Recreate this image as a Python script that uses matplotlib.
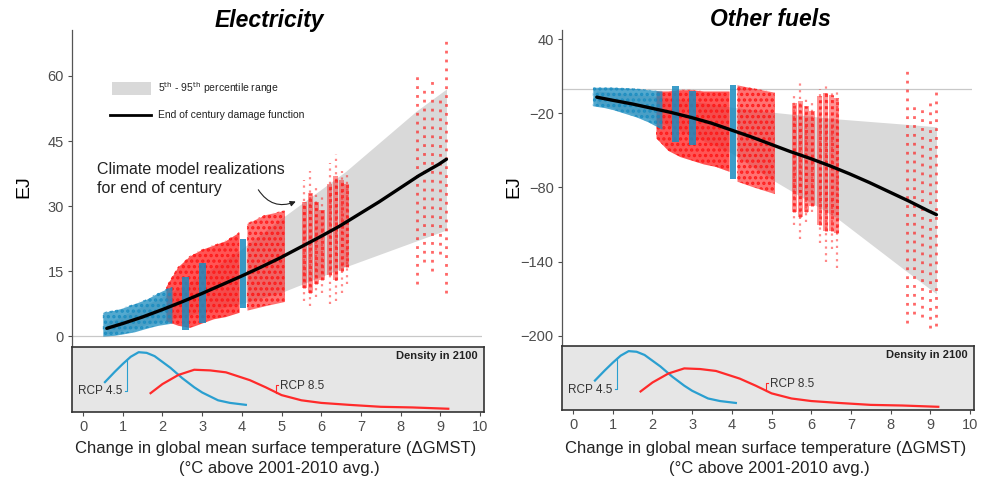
import matplotlib
matplotlib.use("Agg")
import matplotlib.pyplot as plt
import numpy as np
from matplotlib.patches import Rectangle

plt.rcParams['font.family'] = ['Liberation Sans', 'DejaVu Sans']
plt.rcParams['hatch.linewidth'] = 1.6

BLUE = '#1a8cc0'
RED = '#ff1414'
BAND = '#d9d9d9'
TICKC = '#4d4d4d'

# ---------------- data ----------------
titles = ['Electricity', 'Other fuels']

# end-of-century damage functions
line_x = [0.6, 1, 1.5, 2, 2.5, 3, 3.5, 4, 4.5, 5, 5.5, 6, 6.5, 7, 7.5, 8, 8.5, 9, 9.2]
elec_line = [1.8, 2.9, 4.4, 6.1, 7.9, 9.8, 11.8, 13.8, 15.9, 18.1, 20.5, 22.9, 25.4, 28.2, 31.0, 34.0, 37.0, 39.6, 40.8]
fuel_line = [-7, -9.5, -12.5, -16, -19.5, -23.5, -28, -33.5, -39, -45, -51, -56.5, -62.5, -69, -76, -83.5, -91, -99, -102]

# 5th-95th percentile band
band_x = [0.6, 2, 3, 4, 5, 6.65, 8.45, 9.2]
elec_hi = [3, 9, 14, 20, 27, 38, 52, 57]
elec_lo = [0.5, 3.5, 5.5, 7.5, 10, 16, 22, 24.5]
fuel_hi = [-2, -6, -10, -15, -19, -24.5, -29, -31]
fuel_lo = [-12, -25, -38, -52, -73, -104, -148, -166]

# RCP4.5 realizations: dense cloud envelope
b_cloud_x = [0.5, 0.8, 1.0, 1.3, 1.6, 1.9, 2.25]
elec_b_lo = [0.0, 0.2, 0.5, 1.0, 1.8, 2.5, 3.0]
elec_b_hi = [5.5, 6.0, 6.5, 7.5, 8.5, 10.0, 11.5]
fuel_b_lo = [-14, -15.5, -17, -20, -23, -27, -33]
fuel_b_hi = [1, 1, 1, 0.5, 0, -1, -2]
# RCP4.5 single-model columns
b_col_x = [2.6, 3.03, 4.05]
elec_bc_lo = [1.4, 3.0, 6.5]
elec_bc_hi = [13.6, 16.8, 22.5]
fuel_bc_lo = [-43, -46, -73]
fuel_bc_hi = [2, -2, 2.5]

# RCP8.5 realizations: dense cloud envelopes
rA_x = [2.1, 2.4, 2.7, 3.0, 3.3, 3.6, 3.95]
elec_rA_lo = [3.5, 2.5, 2.0, 3.0, 4.0, 4.5, 5.5]
elec_rA_hi = [11.5, 16, 18.5, 20, 21, 22, 24]
fuel_rA_lo = [-40, -50, -55, -58, -61, -63, -67]
fuel_rA_hi = [-2, -2, -1, -1, -2, -2, -2]
rB_x = [4.15, 4.6, 5.1]
elec_rB_lo = [6, 7, 8]
elec_rB_hi = [26, 28, 29]
fuel_rB_lo = [-75, -80, -85]
fuel_rB_hi = [3, 0, -3]

# RCP8.5 dense columns
rc_x = [5.6, 5.75, 5.9, 6.05, 6.25, 6.4, 6.55, 6.68]
elec_rc_lo = [11, 10, 12, 13, 14, 13, 15, 16]
elec_rc_hi = [31, 33, 31, 29, 35, 37, 36, 35]
elec_rc_olo = [8, 7, 9, 10, 7.5, 8, 10, 12]
elec_rc_ohi = [36, 38, 35, 33, 40, 42, 38, 38]
fuel_rc_lo = [-100, -104, -100, -95, -110, -115, -115, -117]
fuel_rc_hi = [-12, -10, -14, -18, -6, -4, -5, -8]
fuel_rc_olo = [-110, -122, -108, -100, -125, -140, -130, -145]
fuel_rc_ohi = [-3, 5, -8, -10, 0, 2, -1, 0]

# RCP8.5 sparse hot columns
rs_x = [8.46, 8.64, 8.84, 9.04, 9.2]
elec_rs_lo = [12, 17, 15, 19, 10]
elec_rs_hi = [61, 57, 59, 55, 68]
fuel_rs_lo = [-190, -182, -185, -194, -192]
fuel_rs_hi = [14, -10, -15, -10, -2]

# density of GMST in 2100
rcp45_x = [0.55, 0.8, 1.0, 1.2, 1.4, 1.6, 1.8, 2.0, 2.2, 2.5, 2.8, 3.0, 3.4, 3.7, 4.1]
rcp45_y = [0.46, 0.62, 0.74, 0.85, 0.92, 0.91, 0.86, 0.77, 0.68, 0.52, 0.38, 0.30, 0.18, 0.14, 0.11]
rcp85_x = [1.7, 2.0, 2.4, 2.8, 3.2, 3.6, 4.2, 4.6, 5.0, 5.5, 6.0, 6.7, 7.5, 8.3, 9.2]
rcp85_y = [0.29, 0.43, 0.57, 0.65, 0.64, 0.61, 0.49, 0.38, 0.26, 0.18, 0.14, 0.11, 0.08, 0.07, 0.05]

x_ticks = list(range(0, 11))
elec_ticks = [0, 15, 30, 45, 60]
fuel_ticks = [40, -20, -80, -140, -200]

# ---------------- figure ----------------
W, H = 985, 487
fig = plt.figure(figsize=(W / 100, H / 100), dpi=100)


def fx(px):
    return px / W


def fy(py):
    return 1 - py / H


def cloud(ax, x, lo, hi, color, alpha):
    ax.fill_between(x, lo, hi, color=color, alpha=alpha, lw=0, zorder=2)
    ax.fill_between(x, lo, hi, facecolor='none', edgecolor=color, hatch='...', lw=0,
                    alpha=0.9, zorder=2)


panels = [
    dict(left=72, main_bot=347, dens_bot=412, ylim=(-2.5, 70.6), ticks=elec_ticks,
         line=elec_line, hi=elec_hi, lo=elec_lo,
         b_lo=elec_b_lo, b_hi=elec_b_hi, bc_lo=elec_bc_lo, bc_hi=elec_bc_hi,
         rA_lo=elec_rA_lo, rA_hi=elec_rA_hi, rB_lo=elec_rB_lo, rB_hi=elec_rB_hi,
         rc_lo=elec_rc_lo, rc_hi=elec_rc_hi, rc_olo=elec_rc_olo, rc_ohi=elec_rc_ohi,
         rs_lo=elec_rs_lo, rs_hi=elec_rs_hi, title_x=269, xlab_x=276),
    dict(left=562, main_bot=346, dens_bot=410, ylim=(-208.2, 47.3), ticks=fuel_ticks,
         line=fuel_line, hi=fuel_hi, lo=fuel_lo,
         b_lo=fuel_b_lo, b_hi=fuel_b_hi, bc_lo=fuel_bc_lo, bc_hi=fuel_bc_hi,
         rA_lo=fuel_rA_lo, rA_hi=fuel_rA_hi, rB_lo=fuel_rB_lo, rB_hi=fuel_rB_hi,
         rc_lo=fuel_rc_lo, rc_hi=fuel_rc_hi, rc_olo=fuel_rc_olo, rc_ohi=fuel_rc_ohi,
         rs_lo=fuel_rs_lo, rs_hi=fuel_rs_hi, title_x=770, xlab_x=766),
]

XLIM = (-0.28, 10.1)

for i, p in enumerate(panels):
    ax = fig.add_axes([fx(p['left']), fy(p['main_bot']), 410 / W, (p['main_bot'] - 30) / H])
    dax = fig.add_axes([fx(p['left']), fy(p['dens_bot']), 412 / W, (p['dens_bot'] - p['main_bot']) / H])

    ax.set_xlim(*XLIM)
    ax.set_ylim(*p['ylim'])
    for s in ['top', 'right', 'bottom']:
        ax.spines[s].set_visible(False)
    ax.spines['left'].set_color('#555555')
    ax.spines['left'].set_linewidth(0.9)
    ax.set_xticks([])
    ax.set_yticks(p['ticks'])
    ax.tick_params(axis='y', colors=TICKC, labelsize=10.5, length=3, width=0.8, pad=3)
    ax.axhline(0, color='#c8c8c8', lw=0.9, zorder=0)

    # band
    ax.fill_between(band_x, p['lo'], p['hi'], color=BAND, lw=0, zorder=1)

    # RCP8.5 clouds
    cloud(ax, rA_x, p['rA_lo'], p['rA_hi'], RED, 0.72)
    cloud(ax, rB_x, p['rB_lo'], p['rB_hi'], RED, 0.6)
    ax.vlines(rc_x, p['rc_olo'], p['rc_ohi'], color=RED, lw=1.6, alpha=0.5,
              linestyles=[(0, (1, 2))], zorder=2)
    ax.bar(rc_x, np.array(p['rc_hi']) - np.array(p['rc_lo']), bottom=p['rc_lo'],
           width=0.13, color=RED, alpha=0.45, lw=0, zorder=2)
    ax.vlines(rc_x, p['rc_lo'], p['rc_hi'], color=RED, lw=2.2, alpha=0.7,
              linestyles=[(0, (1, 1))], zorder=2)
    ax.vlines(rs_x, p['rs_lo'], p['rs_hi'], color=RED, lw=2.0, alpha=0.65,
              linestyles=[(0, (1, 2.2))], zorder=2)

    # RCP4.5 clouds
    cloud(ax, b_cloud_x, p['b_lo'], p['b_hi'], BLUE, 0.75)
    ax.bar(b_col_x, np.array(p['bc_hi']) - np.array(p['bc_lo']), bottom=p['bc_lo'],
           width=0.17, color=BLUE, alpha=0.85, lw=0, zorder=2)

    # damage function
    ax.plot(line_x, p['line'], color='black', lw=2.4, zorder=4, solid_capstyle='round')

    # density panel
    dax.set_facecolor('#e6e6e6')
    dax.set_xlim(*XLIM)
    dax.set_ylim(0, 1)
    for s in dax.spines.values():
        s.set_color('#333333')
        s.set_linewidth(1.2)
    dax.set_yticks([])
    dax.set_xticks(x_ticks)
    dax.tick_params(axis='x', colors=TICKC, labelsize=10.5, length=3, width=0.8, pad=3)
    dax.plot(rcp45_x, rcp45_y, color='#2a9fd0', lw=1.6)
    dax.plot(rcp85_x, rcp85_y, color='#ff2a2a', lw=1.6)
    dax.text(0.985, 0.86, 'Density in 2100', transform=dax.transAxes, ha='right', va='center',
             fontsize=8, fontweight='bold', color='#222222')
    dax.plot([1.1, 1.1, 1.05], [0.82, 0.33, 0.33], color='#2a9fd0', lw=0.8)
    dax.text(1.0, 0.32, 'RCP 4.5', ha='right', va='center', fontsize=8.5, color='#333333')
    dax.plot([4.85, 4.85, 4.92], [0.30, 0.42, 0.42], color='#ff2a2a', lw=0.8)
    dax.text(4.97, 0.40, 'RCP 8.5', ha='left', va='center', fontsize=8.5, color='#333333')

    # titles and labels
    fig.text(fx(p['title_x']), fy(20), titles[i], ha='center', va='center',
             fontsize=16.5, fontweight='bold', fontstyle='italic')
    fig.text(fx(p['left'] - 48), fy(187), 'EJ', rotation=90, ha='center', va='center', fontsize=14)
    fig.text(fx(p['xlab_x']), fy(449), 'Change in global mean surface temperature (\u0394GMST)',
             ha='center', va='center', fontsize=12, color='#222222')
    fig.text(fx(p['xlab_x'] + 3), fy(469), '(\u00b0C above 2001-2010 avg.)',
             ha='center', va='center', fontsize=12, color='#222222')

    if i == 0:
        # legend
        ax.add_patch(Rectangle((0.73, 55.6), 1.0, 3.0, color=BAND, lw=0, zorder=3))
        ax.text(1.9, 57.1, '5$^{\\rm th}$ - 95$^{\\rm th}$ percentile range', fontsize=7.5,
                va='center', ha='left', color='#222222')
        ax.plot([0.68, 1.73], [51.1, 51.1], color='black', lw=2.0)
        ax.text(1.9, 51.1, 'End of century damage function', fontsize=7.5,
                va='center', ha='left', color='#222222')
        ax.text(0.35, 36.3, 'Climate model realizations\nfor end of century', fontsize=11.5,
                va='center', ha='left', color='#222222', linespacing=1.35)
        ax.annotate('', xy=(5.45, 31.3), xytext=(4.4, 34.3),
                    arrowprops=dict(arrowstyle='-|>', connectionstyle='arc3,rad=0.45',
                                    color='#222222', lw=0.8, mutation_scale=8))

fig.savefig('out.png', dpi=100)
